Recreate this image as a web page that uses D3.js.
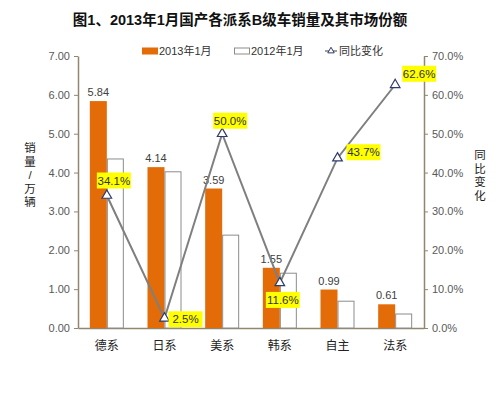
<!DOCTYPE html>
<html>
<head>
<meta charset="utf-8">
<script src="https://cdn.jsdelivr.net/npm/d3@7"></script>
<style>
  body { margin: 0; background: #fff; }
  text { font-family: Arial, "Liberation Sans", "Noto Sans CJK SC", sans-serif; }
</style>
</head>
<body>
<script>
// data
var categories = ['德系', '日系', '美系', '韩系', '自主', '法系'];
var sales2013 = [5.84, 4.14, 3.59, 1.55, 0.99, 0.61];
var sales2012 = [4.35, 4.02, 2.39, 1.41, 0.69, 0.36];
var yoyChange = [34.1, 2.5, 50.0, 11.6, 43.7, 62.6];
var leftTicks = [0, 1, 2, 3, 4, 5, 6, 7];
var rightTicks = [0, 10, 20, 30, 40, 50, 60, 70];

// layout
var W = 504, H = 393;
var plotLeft = 78, plotRight = 424, plotTop = 56, plotBottom = 328;
var barW = 17;
var orange = '#e36c09', axisColor = '#938670', lineColor = '#7f7f7f';
// where each yellow % label sits relative to its point
var labelOffset = [[7, -15], [21, 1], [8, -13], [3, 17], [26, -6], [24, -11]];

var svg = d3.select('body').append('svg')
  .attr('width', W).attr('height', H);

var x = d3.scaleBand().domain(categories).range([plotLeft, plotRight]);
var yL = d3.scaleLinear().domain([0, 7]).range([plotBottom, plotTop]);
var yR = d3.scaleLinear().domain([0, 70]).range([plotBottom, plotTop]);
var cx = function(d) { return x(d) + x.bandwidth() / 2; };

// title
svg.append('text').text('图1、2013年1月国产各派系B级车销量及其市场份额')
  .attr('x', 240).attr('y', 25).attr('text-anchor', 'middle')
  .attr('font-size', '14.5px').attr('font-weight', 'bold').attr('fill', '#111');

// left axis
var gl = svg.append('g').attr('transform', 'translate(' + plotLeft + ',0)')
  .call(d3.axisLeft(yL).tickValues(leftTicks).tickFormat(d3.format('.2f')).tickSize(4).tickSizeOuter(0));
// right axis
var gr = svg.append('g').attr('transform', 'translate(' + plotRight + ',0)')
  .call(d3.axisRight(yR).tickValues(rightTicks).tickFormat(function(d){ return d.toFixed(1) + '%'; }).tickSize(4).tickSizeOuter(0));
[gl, gr].forEach(function(g) {
  g.select('.domain').attr('stroke', axisColor).attr('stroke-width', 1.5);
  g.selectAll('.tick line').attr('stroke', axisColor);
  g.selectAll('.tick text').attr('font-size', '11px').attr('fill', '#595959')
    .attr('font-family', 'Arial, "Liberation Sans", sans-serif');
});
gl.selectAll('.tick text').attr('x', -8);
gr.selectAll('.tick text').attr('x', 8);

// bottom axis
var gb = svg.append('g').attr('transform', 'translate(0,' + plotBottom + ')')
  .call(d3.axisBottom(x).tickSize(0).tickSizeOuter(0));
gb.select('.domain').attr('stroke', axisColor).attr('stroke-width', 1.5);
gb.selectAll('.tick text').attr('font-size', '12px').attr('fill', '#222').attr('dy', '1.6em')
  .attr('font-family', '"Noto Sans CJK SC", sans-serif');

// bars
svg.append('g').selectAll('rect').data(categories).enter().append('rect')
  .attr('x', function(d) { return cx(d) - barW; })
  .attr('y', function(d, i) { return yL(sales2013[i]); })
  .attr('width', barW)
  .attr('height', function(d, i) { return plotBottom - yL(sales2013[i]); })
  .attr('fill', orange);

svg.append('g').selectAll('rect').data(categories).enter().append('rect')
  .attr('x', function(d) { return cx(d) + 0.5; })
  .attr('y', function(d, i) { return yL(sales2012[i]); })
  .attr('width', barW - 1)
  .attr('height', function(d, i) { return plotBottom - yL(sales2012[i]); })
  .attr('fill', '#fff').attr('stroke', '#8c8c8c').attr('stroke-width', 1);

// value labels for 2013
svg.append('g').selectAll('text').data(categories).enter().append('text')
  .text(function(d, i) { return sales2013[i].toFixed(2); })
  .attr('x', function(d) { return cx(d) - barW / 2; })
  .attr('y', function(d, i) { return yL(sales2013[i]) - 5; })
  .attr('text-anchor', 'middle').attr('font-size', '11px').attr('fill', '#404040');

// yoy line
var line = d3.line()
  .x(function(d, i) { return cx(categories[i]); })
  .y(function(d) { return yR(d); });
svg.append('path').datum(yoyChange)
  .attr('d', line).attr('fill', 'none')
  .attr('stroke', lineColor).attr('stroke-width', 2);

var tri = d3.symbol().type(d3.symbolTriangle).size(40);
svg.append('g').selectAll('path').data(yoyChange).enter().append('path')
  .attr('d', tri)
  .attr('transform', function(d, i) { return 'translate(' + cx(categories[i]) + ',' + yR(d) + ')'; })
  .attr('fill', '#fff').attr('stroke', '#2e3a6b').attr('stroke-width', 1.2);

// yellow % labels
var lab = svg.append('g').selectAll('g').data(yoyChange).enter().append('g')
  .attr('transform', function(d, i) {
    return 'translate(' + (cx(categories[i]) + labelOffset[i][0]) + ',' + (yR(d) + labelOffset[i][1]) + ')';
  });
lab.append('rect').attr('x', -17).attr('y', -8).attr('width', 34).attr('height', 16).attr('fill', '#ffff00');
lab.append('text').text(function(d) { return d.toFixed(1) + '%'; })
  .attr('text-anchor', 'middle').attr('dy', '0.36em')
  .attr('font-size', '11.5px').attr('fill', '#333');

// axis titles, stacked characters in one text each
function stackedTitle(chars, xPos, y0, step) {
  var t = svg.append('text')
    .attr('text-anchor', 'middle')
    .attr('font-size', '11.5px').attr('fill', '#222')
    .attr('font-family', '"Noto Sans CJK SC", sans-serif');
  t.selectAll('tspan').data(chars).enter().append('tspan')
    .text(function(d) { return d; })
    .attr('x', xPos).attr('y', function(d, i) { return y0 + i * step + 4; });
}
stackedTitle(['销', '量', '/', '万', '辆'], 30, 148, 13.5);
stackedTitle(['同', '比', '变', '化'], 480, 155, 13.5);

// legend
var lg = svg.append('g').attr('transform', 'translate(0,51)');
lg.append('rect').attr('x', 142).attr('y', -3.5).attr('width', 16).attr('height', 7).attr('fill', orange);
lg.append('text').text('2013年1月').attr('x', 159).attr('dy', '0.35em')
  .attr('font-size', '11px').attr('fill', '#333');
lg.append('rect').attr('x', 234.5).attr('y', -3).attr('width', 15).attr('height', 6)
  .attr('fill', '#fff').attr('stroke', '#8c8c8c');
lg.append('text').text('2012年1月').attr('x', 251).attr('dy', '0.35em')
  .attr('font-size', '11px').attr('fill', '#333');
lg.append('line').attr('x1', 325).attr('x2', 337).attr('y1', 0).attr('y2', 0)
  .attr('stroke', lineColor).attr('stroke-width', 1.5);
lg.append('path').attr('d', d3.symbol().type(d3.symbolTriangle).size(18))
  .attr('transform', 'translate(331,0)').attr('fill', '#fff').attr('stroke', '#2e3a6b');
lg.append('text').text('同比变化').attr('x', 339).attr('dy', '0.35em')
  .attr('font-size', '11px').attr('fill', '#333');
</script>
</body>
</html>
